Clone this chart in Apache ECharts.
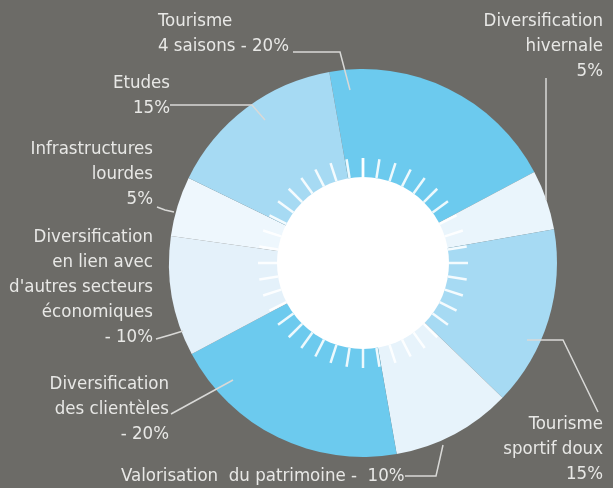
<!DOCTYPE html>
<html>
<head>
<meta charset="utf-8">
<script src="https://cdn.jsdelivr.net/npm/echarts@6/dist/echarts.min.js"></script>
<style>
  html, body { margin: 0; padding: 0; background: #6c6b67; }
  #chart { width: 613px; height: 488px; }
</style>
</head>
<body>
<div id="chart"></div>
<script>
// Répartition des actions (en %), dans le sens horaire depuis le haut
const categories = [
  'Tourisme\n4 saisons',
  'Diversification\nhivernale',
  'Tourisme\nsportif doux',
  'Valorisation  du patrimoine',
  'Diversification\ndes clientèles',
  "Diversification\nen lien avec\nd'autres secteurs\néconomiques",
  'Infrastructures\nlourdes',
  'Etudes'
];
const shares = [20, 5, 15, 10, 20, 10, 5, 15];
// Séparateur entre le libellé et la valeur
const valueSeparators = [' - ', '\n', '\n', ' -  ', '\n- ', '\n- ', '\n', '\n'];

const sliceColors = ['#6ccaee', '#eaf5fc', '#a6daf3', '#e7f3fb', '#6ccaee', '#e4f1fa', '#eef7fd', '#a6daf3'];
const rayCount = 40;

// Placement des étiquettes et de leurs traits de rappel
const labelPlacement = [
  { x: 158, y: 9,   align: 'left',  line: [[350, 90], [340, 52], [293, 52]] },
  { x: 603, y: 9,   align: 'right', line: [[546, 200], [546, 140], [546, 78]] },
  { x: 603, y: 412, align: 'right', line: [[527, 340], [563, 340], [598, 412]] },
  { x: 121, y: 464, align: 'left',  line: [[443, 445], [436, 476], [405, 476]] },
  { x: 169, y: 372, align: 'right', line: [[233, 380], [202, 397], [171, 414]] },
  { x: 153, y: 225, align: 'right', line: [[183, 331], [170, 335], [156, 339]] },
  { x: 153, y: 137, align: 'right', line: [[174, 212], [165, 210], [157, 207]] },
  { x: 170, y: 71,  align: 'right', line: [[265, 120], [252, 105], [170, 105]] }
];

const chart = echarts.init(document.getElementById('chart'));
const center = [363, 263];
const fontFamily = '"Liberation Sans Narrow", "DejaVu Sans Condensed", "Roboto", sans-serif';
const pieData = categories.map((name, i) => ({ name: name, value: shares[i] }));

chart.setOption({
  backgroundColor: '#6c6b67',
  animation: false,
  series: [
    {
      // secteurs colorés
      type: 'pie',
      center: center,
      radius: [0, 194],
      startAngle: 100,
      silent: true,
      data: pieData.map((d, i) => Object.assign({}, d, { itemStyle: { color: sliceColors[i] } })),
      label: { show: false },
      labelLine: { show: false }
    },
    {
      // disque blanc central
      type: 'pie',
      center: center,
      radius: [0, 86],
      silent: true,
      label: { show: false },
      labelLine: { show: false },
      data: [{ value: 1, itemStyle: { color: '#ffffff' } }]
    },
    {
      // rayons autour du disque
      type: 'gauge',
      z: 10,
      center: center,
      radius: 106,
      startAngle: 90,
      endAngle: -270,
      min: 0,
      max: rayCount,
      splitNumber: rayCount,
      silent: true,
      axisLine: { show: true, lineStyle: { width: 1, color: [[1, 'rgba(0,0,0,0)']] } },
      axisTick: { show: false },
      splitLine: {
        show: true,
        length: 19,
        distance: 0,
        lineStyle: { color: 'rgba(255,255,255,0.88)', width: 2.5 }
      },
      axisLabel: { show: false },
      pointer: { show: false },
      anchor: { show: false },
      progress: { show: false },
      title: { show: false },
      detail: { show: false },
      data: [{ value: 0 }]
    },
    {
      // étiquettes et traits de rappel, au-dessus des secteurs
      type: 'pie',
      z: 20,
      center: center,
      radius: [0, 194],
      startAngle: 100,
      avoidLabelOverlap: false,
      silent: true,
      data: pieData,
      itemStyle: { color: 'rgba(0,0,0,0)' },
      label: {
        show: true,
        position: 'outside',
        color: '#e8e8e6',
        fontFamily: fontFamily,
        fontSize: 18.5,
        lineHeight: 25,
        formatter: p => p.name + valueSeparators[p.dataIndex] + p.value + '%'
      },
      labelLine: {
        show: true,
        lineStyle: { color: '#d9d9d7', width: 1.5 }
      },
      labelLayout: p => {
        const l = labelPlacement[p.dataIndex];
        return {
          x: l.x,
          y: l.y,
          align: l.align,
          verticalAlign: 'top',
          labelLinePoints: l.line
        };
      }
    }
  ]
});
</script>
</body>
</html>
